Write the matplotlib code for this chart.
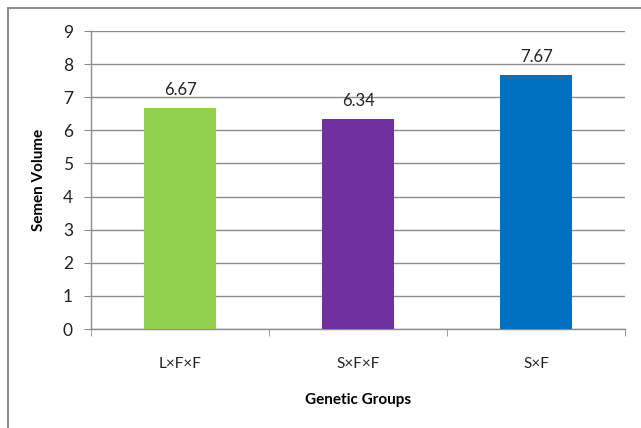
import matplotlib.pyplot as plt
from matplotlib.patches import Rectangle
import numpy as np

groups = ['L×F×F', 'S×F×F', 'S×F']
volume = [6.67, 6.34, 7.67]
colors = ['#92D050', '#7030A0', '#0070C0']

plt.rcParams['font.family'] = ['Lato', 'DejaVu Sans']

W, H = 641, 428
fig = plt.figure(figsize=(W / 100, H / 100), dpi=100)

# outer chart border (runs off the right and bottom edge)
fig.patches.append(Rectangle((8 / W, -0.05), 1.2, 1 - 8 / H + 0.05,
                             transform=fig.transFigure, fill=False,
                             edgecolor='#8c8c8c', linewidth=1.5))

ax = fig.add_axes([91 / W, 1 - 329 / H, (625 - 91) / W, (329 - 31) / H])

x = np.arange(len(groups))
bars = ax.bar(x, volume, width=0.4, color=colors, zorder=3)
for b, v in zip(bars, volume):
    ax.text(b.get_x() + b.get_width() / 2, v + 0.3, '%.2f' % v,
            ha='center', va='bottom', fontsize=12, color='#222222')

ax.set_xlim(-0.5, 2.5)
ax.set_ylim(0, 9)
ax.set_yticks(range(10))
ax.yaxis.grid(True, color='#8c8c8c', linewidth=1, zorder=0)

ax.set_xticks(x)
ax.set_xticklabels(groups, fontsize=11, color='#222222')
ax.set_xticks([-0.5, 0.5, 1.5, 2.5], minor=True)
ax.tick_params(axis='x', which='major', length=0, pad=20)
ax.tick_params(axis='x', which='minor', length=5, color='#8c8c8c', direction='out')
ax.tick_params(axis='y', length=5, color='#8c8c8c', labelsize=12.5,
               labelcolor='#222222', pad=8)

for s in ['top', 'right']:
    ax.spines[s].set_visible(False)
for s in ['left', 'bottom']:
    ax.spines[s].set_color('#8c8c8c')
    ax.spines[s].set_linewidth(1)

ax.set_ylabel('Semen Volume', fontsize=11, fontweight='bold', labelpad=12)
ax.set_xlabel('Genetic Groups', fontsize=11, fontweight='bold', labelpad=16)

fig.savefig('out.png', dpi=100)
